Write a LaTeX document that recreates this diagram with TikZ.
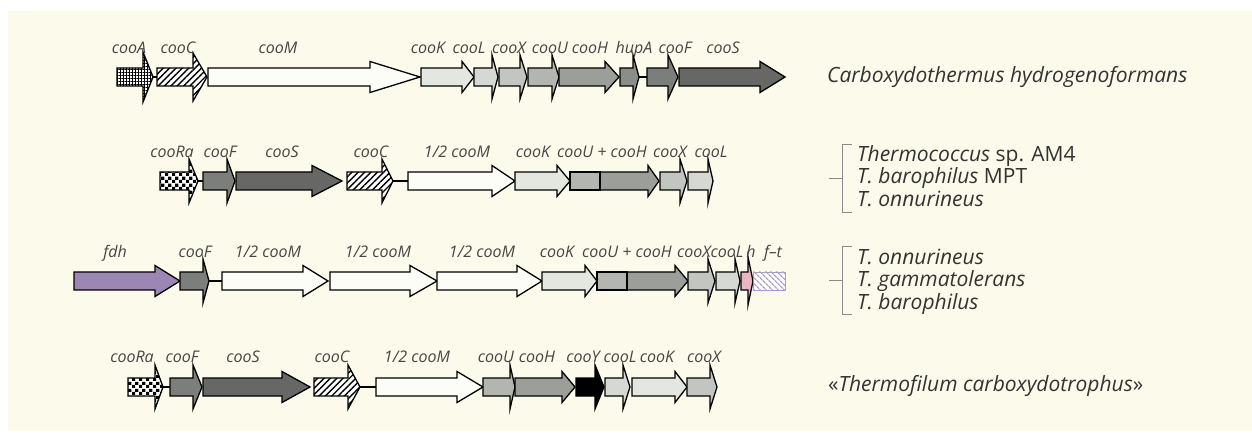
\documentclass[tikz,border=0pt]{standalone}
\usepackage{fontspec}
\setmainfont{Open Sans}
\usetikzlibrary{patterns,patterns.meta}

\definecolor{cream}{HTML}{FCFAEA}
\definecolor{labgray}{HTML}{454545}
\definecolor{spgray}{HTML}{333333}
\definecolor{brgray}{HTML}{8A8A8A}
\definecolor{cM}{HTML}{FDFDF8}
\definecolor{cK}{HTML}{E4E6E0}
\definecolor{cL}{HTML}{D6D8D3}
\definecolor{cX}{HTML}{C3C5C0}
\definecolor{cU}{HTML}{B3B5B0}
\definecolor{cH}{HTML}{9C9E9A}
\definecolor{cHup}{HTML}{8B8D89}
\definecolor{cF}{HTML}{7C7E7B}
\definecolor{cS}{HTML}{676866}
\definecolor{cFdh}{HTML}{9C86B4}
\definecolor{cPink}{HTML}{E8B5C5}
\definecolor{cLav}{HTML}{A99CCB}

% small checkerboard for the regulator genes
\pgfdeclarepatternformonly{finecheck}{\pgfpointorigin}{\pgfqpoint{6.6pt}{6.6pt}}{\pgfqpoint{6.6pt}{6.6pt}}{%
  \pgfpathrectangle{\pgfpointorigin}{\pgfqpoint{3.3pt}{3.3pt}}%
  \pgfpathrectangle{\pgfqpoint{3.3pt}{3.3pt}}{\pgfqpoint{3.3pt}{3.3pt}}%
  \pgfusepath{fill}}

% body half-height of every gene arrow
\def\bh{9}

% gene arrow: name, fill style, start x, head base x, tip x, row y, head half-height
\newcommand\genearrow[7]{%
  \coordinate (#1-s) at (#3,#6);
  \coordinate (#1-t) at (#5,#6);
  \path[gene,#2] (#3,#6-\bh) -- (#4,#6-\bh) -- (#4,#6-#7) -- (#5,#6)
    -- (#4,#6+#7) -- (#4,#6+\bh) -- (#3,#6+\bh) -- cycle;
}
% gene box without arrowhead: name, fill style, start x, end x, row y
\newcommand\genebox[5]{%
  \coordinate (#1-s) at (#3,#5);
  \coordinate (#1-t) at (#4,#5);
  \path[gene,#2] (#3,#5-\bh) rectangle (#4,#5+\bh);
}

\begin{document}
\begin{tikzpicture}[x=1pt,y=-1pt,
  gene/.style={draw=black,line width=1.3pt,line join=miter},
  gridf/.style={preaction={fill=white},pattern={Hatch[angle=0,distance=3pt,line width=0.8pt]}},
  hatchf/.style={preaction={fill=white},pattern={Lines[angle=45,distance=4.5pt,line width=1.4pt]}},
  checkf/.style={preaction={fill=white},pattern=finecheck},
  ftf/.style={draw=cLav,line width=0.8pt,preaction={fill=white},pattern={Lines[angle=-45,distance=4pt,line width=1.3pt]},pattern color=cLav},
  link/.style={draw=black,line width=1.3pt},
  divider/.style={draw=black,line width=2.6pt},
  lab/.style={font=\fontsize{16}{19}\selectfont\itshape,text=labgray,anchor=base,inner sep=0pt},
  sp/.style={font=\fontsize{21}{25}\selectfont,text=spgray,anchor=base west,inner sep=0pt},
  bracket/.style={draw=brgray,line width=1pt}]

\useasboundingbox (0,0) rectangle (1252,435);
\fill[cream] (8,11) rectangle (1252,431);

% ---------- Carboxydothermus hydrogenoformans ----------
\genearrow{a1}{gridf}{117}{143}{153}{77}{25}
\genearrow{c1}{hatchf}{157}{193}{207}{77}{24}
\genearrow{m1}{fill=cM}{208}{370}{420}{77}{15.5}
\genearrow{k1}{fill=cK}{421}{462}{474}{77}{15.5}
\genearrow{l1}{fill=cL}{474}{492}{498}{77}{22}
\genearrow{x1}{fill=cX}{499}{520}{527}{77}{22}
\genearrow{u1}{fill=cU}{528}{552}{559}{77}{22}
\genearrow{h1}{fill=cH}{559}{605}{619}{77}{15.5}
\genearrow{hup1}{fill=cHup}{620}{633}{639}{77}{22}
\genearrow{f1}{fill=cF}{647}{668}{678}{77}{22}
\genearrow{s1}{fill=cS}{679}{760}{785}{77}{15.5}
\draw[link] (a1-t) -- (c1-s);
\draw[link] (hup1-t) -- (f1-s);

\node[lab] (la1) at (129,54) {cooA};
\node[lab] (lc1) at (178,54) {cooC};
\node[lab] (lm1) at (278,54) {cooM};
\node[lab] (lk1) at (428,54) {cooK};
\node[lab] (ll1) at (469,54) {cooL};
\node[lab] (lx1) at (509,54) {cooX};
\node[lab] (lu1) at (550,54) {cooU};
\node[lab] (lh1) at (590,54) {cooH};
\node[lab] (lhup1) at (634,54) {hupA};
\node[lab] (lf1) at (675,54) {cooF};
\node[lab] (ls1) at (723,54) {cooS};

\node[sp] (sp1) at (827,83) {\itshape Carboxydothermus hydrogenoformans};

% ---------- Thermococcus sp. AM4 group ----------
\genearrow{ra2}{checkf}{160}{189}{198}{181}{22}
\genearrow{f2}{fill=cF}{203}{227}{235}{181}{22}
\genearrow{s2}{fill=cS}{236}{312}{342}{181}{15.5}
\genearrow{c2}{hatchf}{347}{382}{393}{181}{22}
\genearrow{m2}{fill=cM}{408}{492}{515}{181}{15.5}
\genearrow{k2}{fill=cK}{515}{557}{570}{181}{15.5}
\genebox{u2}{fill=cU}{570}{600}{181}
\genearrow{h2}{fill=cH}{600}{648}{659}{181}{15.5}
\genearrow{x2}{fill=cX}{660}{680}{687}{181}{22}
\genearrow{l2}{fill=cL}{688}{708}{713}{181}{22}
\draw[link] (ra2-t) -- (f2-s);
\draw[link] (c2-t) -- (m2-s);
\draw[divider] (600,172) -- (600,190);

\node[lab] (lra2) at (172,158) {cooRa};
\node[lab] (lf2) at (220,158) {cooF};
\node[lab] (ls2) at (282,158) {cooS};
\node[lab] (lc2) at (371,158) {cooC};
\node[lab] (lm2) at (457,158) {1/2 cooM};
\node[lab] (lk2) at (533,158) {cooK};
\node[lab] (luh2) at (602,158) {cooU + cooH};
\node[lab] (lx2) at (670,158) {cooX};
\node[lab] (ll2) at (711,158) {cooL};

\coordinate (b2t) at (852,145);
\coordinate (b2b) at (852,213);
\coordinate (b2m) at (842,179);
\draw[bracket] (b2t) -| (b2m) |- (b2b);
\draw[bracket] (b2m) -- ++(-13,0);
\node[sp] (sp2a) at (857,162) {\textit{Thermococcus} sp. AM4};
\node[sp] (sp2b) at (857,184) {\textit{T. barophilus} MPT};
\node[sp] (sp2c) at (857,207) {\textit{T. onnurineus}};

% ---------- T. onnurineus / gammatolerans / barophilus group ----------
\genearrow{fdh3}{fill=cFdh}{74}{155}{180}{281}{15.5}
\genearrow{f3}{fill=cF}{180}{203}{209}{281}{22}
\genearrow{m3a}{fill=cM}{222}{303}{328}{281}{15.5}
\genearrow{m3b}{fill=cM}{330}{410}{437}{281}{15.5}
\genearrow{m3c}{fill=cM}{437}{517}{542}{281}{15.5}
\genearrow{k3}{fill=cK}{542}{585}{597}{281}{15.5}
\genebox{u3}{fill=cU}{597}{627}{281}
\genearrow{h3}{fill=cH}{627}{675}{688}{281}{15.5}
\genearrow{x3}{fill=cX}{688}{708}{715}{281}{22}
\genearrow{l3}{fill=cL}{716}{735}{740}{281}{22}
\genearrow{hh3}{fill=cPink}{741}{748}{753}{281}{24}
\coordinate (ft3-s) at (753,281);
\path[ftf] (753,272) rectangle (785,290);
\draw[link] (f3-t) -- (m3a-s);
\draw[divider] (627,272) -- (627,290);

\node[lab] (lfdh3) at (115,258) {fdh};
\node[lab] (lf3) at (195,258) {cooF};
\node[lab] (lm3a) at (268,258) {1/2 cooM};
\node[lab] (lm3b) at (378,258) {1/2 cooM};
\node[lab] (lm3c) at (482,258) {1/2 cooM};
\node[lab] (lk3) at (557,258) {cooK};
\node[lab] (luh3) at (627,258) {cooU + cooH};
\node[lab] (lx3) at (694,258) {cooX};
\node[lab] (ll3) at (727,258) {cooL};
\node[lab] (lhh3) at (751,258) {h};
\node[lab] (lft3) at (773,258) {f–t};

\coordinate (b3t) at (852,247);
\coordinate (b3b) at (852,315);
\coordinate (b3m) at (842,281);
\draw[bracket] (b3t) -| (b3m) |- (b3b);
\draw[bracket] (b3m) -- ++(-13,0);
\node[sp] (sp3a) at (857,265) {\textit{T. onnurineus}};
\node[sp] (sp3b) at (857,287) {\textit{T. gammatolerans}};
\node[sp] (sp3c) at (857,309) {\textit{T. barophilus}};

% ---------- Thermofilum carboxydotrophus ----------
\genearrow{ra4}{checkf}{128}{155}{163}{387}{22}
\genearrow{f4}{fill=cF}{170}{193}{202}{387}{22}
\genearrow{s4}{fill=cS}{203}{282}{310}{387}{15.5}
\genearrow{c4}{hatchf}{314}{348}{360}{387}{22}
\genearrow{m4}{fill=cM}{376}{457}{483}{387}{15.5}
\genearrow{u4}{fill=cU}{483}{510}{515}{387}{22}
\genearrow{h4}{fill=cH}{515}{562}{575}{387}{15.5}
\genearrow{y4}{fill=black}{576}{595}{604}{387}{22}
\genearrow{l4}{fill=cL}{605}{623}{630}{387}{22}
\genearrow{k4}{fill=cK}{632}{675}{687}{387}{15.5}
\genearrow{x4}{fill=cX}{687}{710}{717}{387}{22}
\draw[link] (ra4-t) -- (f4-s);
\draw[link] (c4-t) -- (m4-s);

\node[lab] (lra4) at (132,362) {cooRa};
\node[lab] (lf4) at (182,362) {cooF};
\node[lab] (ls4) at (243,362) {cooS};
\node[lab] (lc4) at (332,362) {cooC};
\node[lab] (lm4) at (417,362) {1/2 cooM};
\node[lab] (lu4) at (496,362) {cooU};
\node[lab] (lh4) at (537,362) {cooH};
\node[lab] (ly4) at (583,362) {cooY};
\node[lab] (ll4) at (620,362) {cooL};
\node[lab] (lk4) at (657,362) {cooK};
\node[lab] (lx4) at (704,362) {cooX};

\node[sp] (sp4) at (828,391) {«\textit{Thermofilum carboxydotrophus}»};
\end{tikzpicture}
\end{document}
